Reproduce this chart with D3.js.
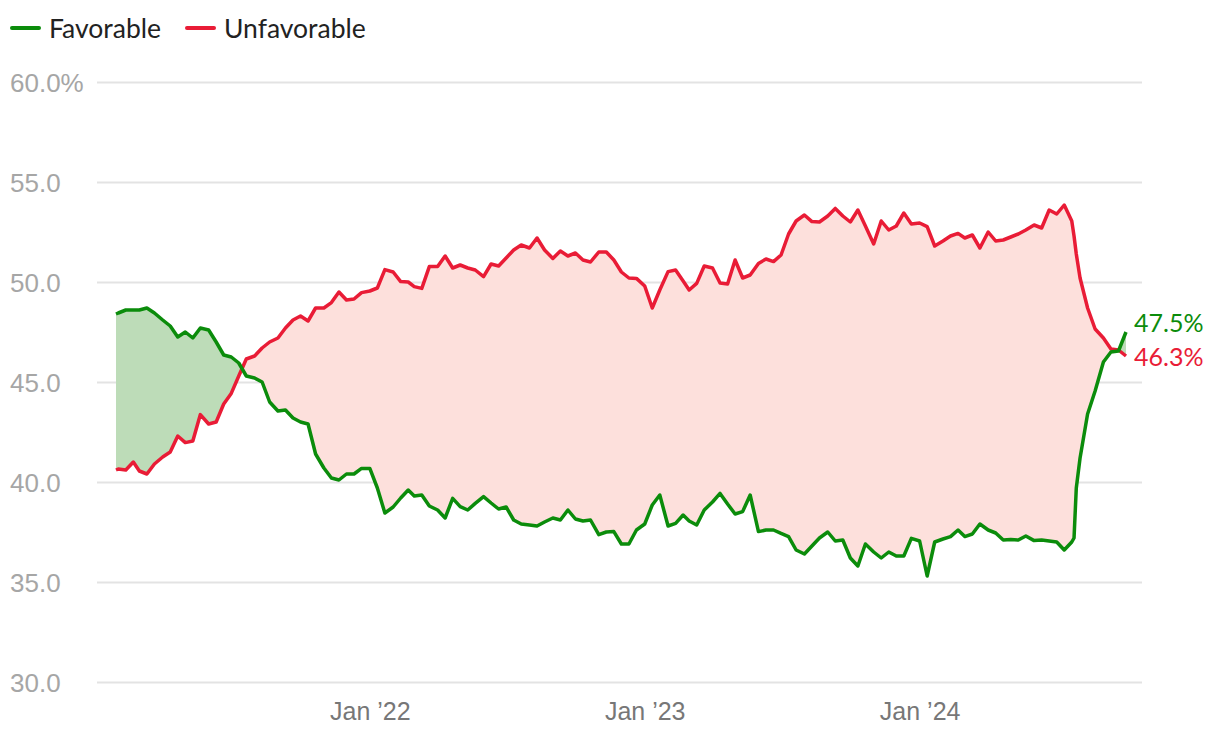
<!DOCTYPE html>
<html>
<head>
<meta charset="utf-8">
<script src="https://cdn.jsdelivr.net/npm/d3@7"></script>
<style>
  html, body { margin: 0; padding: 0; background: #fff; }
  svg { display: block; font-family: Lato, "Noto Sans", sans-serif; }
</style>
</head>
<body>
<svg id="chart" width="1220" height="734"></svg>
<script>
// ---- Data ----
const dates = [
  "2021-01-29","2021-02-01","2021-02-11","2021-02-21","2021-03-01","2021-03-11","2021-03-21",
  "2021-04-01","2021-04-11","2021-04-21","2021-05-01","2021-05-11","2021-05-21",
  "2021-06-01","2021-06-11","2021-06-21","2021-07-01","2021-07-11","2021-07-21",
  "2021-08-01","2021-08-11","2021-08-21","2021-09-01","2021-09-11","2021-09-21",
  "2021-10-01","2021-10-11","2021-10-21","2021-11-01","2021-11-11","2021-11-21",
  "2021-12-01","2021-12-11","2021-12-21",
  "2022-01-01","2022-01-11","2022-01-21","2022-02-01","2022-02-11","2022-02-21",
  "2022-03-01","2022-03-11","2022-03-21","2022-04-01","2022-04-11","2022-04-21",
  "2022-05-01","2022-05-11","2022-05-21","2022-06-01","2022-06-11","2022-06-21",
  "2022-07-01","2022-07-11","2022-07-21","2022-08-01","2022-08-11","2022-08-21",
  "2022-09-01","2022-09-11","2022-09-21","2022-10-01","2022-10-11","2022-10-21",
  "2022-11-01","2022-11-11","2022-11-21","2022-12-01","2022-12-11","2022-12-21",
  "2023-01-01","2023-01-11","2023-01-21","2023-02-01","2023-02-11","2023-02-21",
  "2023-03-01","2023-03-11","2023-03-21","2023-04-01","2023-04-11","2023-04-21",
  "2023-05-01","2023-05-11","2023-05-21","2023-06-01","2023-06-11","2023-06-21",
  "2023-07-01","2023-07-11","2023-07-21","2023-08-01","2023-08-11","2023-08-21",
  "2023-09-01","2023-09-11","2023-09-21","2023-10-01","2023-10-11","2023-10-21",
  "2023-11-01","2023-11-11","2023-11-21","2023-12-01","2023-12-11","2023-12-21",
  "2024-01-01","2024-01-11","2024-01-21","2024-02-01","2024-02-11","2024-02-21",
  "2024-03-01","2024-03-11","2024-03-21","2024-04-01","2024-04-11","2024-04-21",
  "2024-05-01","2024-05-11","2024-05-21","2024-06-01","2024-06-11","2024-06-21",
  "2024-07-01","2024-07-11","2024-07-21","2024-07-24","2024-07-27",
  "2024-08-01","2024-08-11","2024-08-21","2024-09-01","2024-09-11","2024-09-21","2024-10-01"
];

const favorable = [
  48.4,48.45,48.6,48.6,48.6,48.7,48.45,
  48.1,47.8,47.25,47.5,47.2,47.7,
  47.6,47.0,46.35,46.25,45.95,45.3,
  45.2,45.0,44.0,43.55,43.6,43.2,
  43.0,42.9,41.4,40.7,40.2,40.1,
  40.4,40.4,40.68,
  40.68,39.7,38.45,38.75,39.2,39.6,
  39.3,39.35,38.8,38.6,38.2,39.18,
  38.77,38.6,38.93,39.27,38.95,38.65,
  38.75,38.1,37.9,37.85,37.8,38.0,
  38.2,38.1,38.6,38.15,38.05,38.1,
  37.37,37.5,37.52,36.9,36.9,37.6,
  37.9,38.85,39.35,37.8,37.93,38.35,
  38.05,37.85,38.6,39.0,39.43,38.9,
  38.4,38.52,39.35,37.52,37.6,37.6,
  37.43,37.27,36.6,36.4,36.8,37.2,
  37.5,37.05,37.1,36.2,35.8,36.9,
  36.5,36.2,36.5,36.3,36.3,37.18,
  37.05,35.3,37.0,37.15,37.27,37.6,
  37.27,37.4,37.9,37.6,37.45,37.1,
  37.12,37.1,37.3,37.07,37.1,37.05,
  37.0,36.6,37.0,37.2,39.7,
  41.2,43.4,44.55,46.0,46.5,46.55,47.5
];

const unfavorable = [
  40.6,40.65,40.6,41.0,40.55,40.4,40.9,
  41.25,41.5,42.3,41.97,42.05,43.37,
  42.9,43.0,43.9,44.43,45.3,46.15,
  46.3,46.7,47.0,47.2,47.7,48.1,
  48.3,48.05,48.7,48.7,48.97,49.5,
  49.1,49.15,49.47,
  49.55,49.7,50.62,50.5,50.02,50.0,
  49.77,49.68,50.77,50.77,51.3,50.7,
  50.85,50.7,50.6,50.27,50.9,50.8,
  51.2,51.6,51.85,51.7,52.2,51.6,
  51.18,51.55,51.3,51.45,51.1,51.0,
  51.5,51.5,51.1,50.5,50.2,50.18,
  49.8,48.7,49.6,50.52,50.6,50.05,
  49.6,49.93,50.8,50.7,49.95,49.9,
  51.1,50.2,50.35,50.93,51.15,51.02,
  51.35,52.4,53.05,53.35,53.02,53.0,
  53.3,53.68,53.3,53.0,53.6,52.8,
  51.9,53.05,52.6,52.8,53.45,52.9,
  52.95,52.77,51.8,52.05,52.3,52.43,
  52.2,52.35,51.7,52.5,52.05,52.1,
  52.25,52.4,52.6,52.85,52.7,53.6,
  53.4,53.85,53.05,52.3,51.4,
  50.2,48.7,47.65,47.2,46.65,46.6,46.3
];

const seriesNames = ["Favorable", "Unfavorable"];
const yTicks = [30, 35, 40, 45, 50, 55, 60];
const yTickLabels = ["30.0", "35.0", "40.0", "45.0", "50.0", "55.0", "60.0%"];
const xTickDates = ["2022-01-01", "2023-01-01", "2024-01-01"];
const xTickLabels = ["Jan \u201922", "Jan \u201923", "Jan \u201924"];

// ---- Styles ----
const GREEN = "#0b8c0b";
const RED = "#e91c36";
const GREEN_FILL = "#bddcb8";
const RED_FILL = "#fde0dc";

// ---- Build ----
const parse = d3.utcParse("%Y-%m-%d");
const data = dates.map((d, i) => ({ date: parse(d), fav: favorable[i], unf: unfavorable[i] }));

const svg = d3.select("#chart");
const plotLeft = 97, plotRight = 1142, plotTop = 82, plotBottom = 682;

const x = d3.scaleUtc()
  .domain(d3.extent(data, d => d.date))
  .range([116, 1126]);
const y = d3.scaleLinear().domain([30, 60]).range([plotBottom, plotTop]);

// Grid + y labels
const yAxis = d3.axisRight(y)
  .tickValues(yTicks)
  .tickSize(plotRight - plotLeft)
  .tickFormat((d, i) => yTickLabels[i]);
const gy = svg.append("g").attr("transform", `translate(${plotLeft},0)`).call(yAxis);
gy.select(".domain").remove();
gy.selectAll(".tick line").attr("stroke", "#e3e3e3").attr("stroke-width", 2);
gy.selectAll(".tick text")
  .attr("x", 10 - plotLeft)
  .attr("dy", "0.36em")
  .attr("text-anchor", "start")
  .attr("fill", "#a6a6a6")
  .attr("font-size", 26);

// x axis labels
const xAxis = d3.axisBottom(x)
  .tickValues(xTickDates.map(parse))
  .tickSize(0)
  .tickFormat((d, i) => xTickLabels[i]);
const gx = svg.append("g").attr("transform", `translate(0,${plotBottom})`).call(xAxis);
gx.select(".domain").remove();
gx.selectAll(".tick text")
  .attr("y", 38)
  .attr("dy", 0)
  .attr("fill", "#777")
  .attr("font-size", 25);

// Difference areas
const defs = svg.append("defs");
defs.append("clipPath").attr("id", "clip-above")
  .append("path")
  .attr("d", d3.area().x(d => x(d.date)).y0(0).y1(d => y(d.unf))(data));
defs.append("clipPath").attr("id", "clip-below")
  .append("path")
  .attr("d", d3.area().x(d => x(d.date)).y0(734).y1(d => y(d.unf))(data));

const between = d3.area().x(d => x(d.date)).y0(d => y(d.unf)).y1(d => y(d.fav));
svg.append("path").datum(data)
  .attr("clip-path", "url(#clip-above)")
  .attr("fill", GREEN_FILL)
  .attr("d", between);
svg.append("path").datum(data)
  .attr("clip-path", "url(#clip-below)")
  .attr("fill", RED_FILL)
  .attr("d", between);

// Lines
const lineFav = d3.line().x(d => x(d.date)).y(d => y(d.fav));
const lineUnf = d3.line().x(d => x(d.date)).y(d => y(d.unf));
svg.append("path").datum(data)
  .attr("fill", "none").attr("stroke", RED).attr("stroke-width", 3.5)
  .attr("stroke-linejoin", "round").attr("d", lineUnf);
svg.append("path").datum(data)
  .attr("fill", "none").attr("stroke", GREEN).attr("stroke-width", 3.5)
  .attr("stroke-linejoin", "round").attr("d", lineFav);

// End labels
const last = data[data.length - 1];
svg.append("text")
  .attr("x", 1134).attr("y", y(last.fav) - 9).attr("dy", "0.36em")
  .attr("fill", GREEN).attr("font-size", 25)
  .text(d3.format(".1f")(last.fav) + "%");
svg.append("text")
  .attr("x", 1134).attr("y", y(last.unf) + 1).attr("dy", "0.36em")
  .attr("fill", RED).attr("font-size", 25)
  .text(d3.format(".1f")(last.unf) + "%");

// Legend
const legend = svg.append("g");
const legendItems = [
  { name: seriesNames[0], color: GREEN, x0: 10 },
  { name: seriesNames[1], color: RED, x0: 185 }
];
legendItems.forEach(it => {
  legend.append("line")
    .attr("x1", it.x0 + 2).attr("x2", it.x0 + 29)
    .attr("y1", 28).attr("y2", 28)
    .attr("stroke", it.color).attr("stroke-width", 4).attr("stroke-linecap", "round");
  legend.append("text")
    .attr("x", it.x0 + 39).attr("y", 28).attr("dy", "0.36em")
    .attr("fill", "#222").attr("font-size", 26.5)
    .text(it.name);
});
</script>
</body>
</html>
